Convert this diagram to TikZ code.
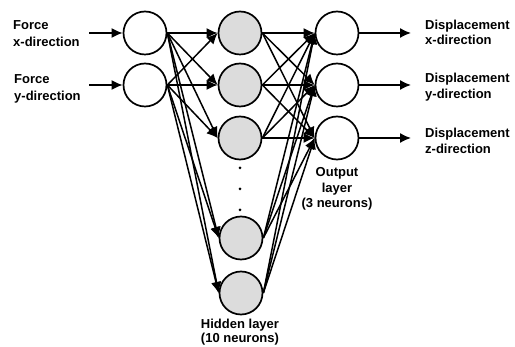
\documentclass[tikz,border=0pt]{standalone}
\usepackage{fontspec}
\setmainfont{Liberation Sans}
\usetikzlibrary{arrows.meta}
\definecolor{hidfill}{HTML}{DCDCDC}
\tikzset{
  neuron/.style={circle,draw=black,line width=1.7pt,minimum size=43pt,inner sep=0pt},
  hidneuron/.style={neuron,fill=hidfill},
  conn/.style={line width=1.5pt,-{Latex[length=11pt,width=10pt]}},
  lbl/.style={font=\fontsize{13}{16}\selectfont\bfseries,inner sep=0pt},
}
\begin{document}
\begin{tikzpicture}[x=1pt,y=-1pt]
\useasboundingbox (0,0) rectangle (515,347);
% input neurons
\node[neuron] (i1) at (145,33) {};
\node[neuron] (i2) at (145,85) {};
% hidden neurons
\node[hidneuron] (h1) at (240,33) {};
\node[hidneuron] (h2) at (240,85) {};
\node[hidneuron] (h3) at (240,138) {};
\node[hidneuron] (h4) at (241,238) {};
\node[hidneuron] (h5) at (241,293) {};
% output neurons
\node[neuron] (o1) at (337,33) {};
\node[neuron] (o2) at (337,85) {};
\node[neuron] (o3) at (337,138) {};
% dots
\fill (240,168) circle (1.5pt);
\fill (240,189) circle (1.5pt);
\fill (240,210) circle (1.5pt);
% free ends
\coordinate (a1) at (89,33);
\coordinate (a2) at (89,85);
\coordinate (b1) at (411,33);
\coordinate (b2) at (411,85);
\coordinate (b3) at (411,138);
% connections
\foreach \i in {i1,i2}{
  \foreach \h in {h1,h2,h3,h4,h5}{
    \draw[conn] (\i.east) -- (\h.west);
  }
}
\foreach \h in {h1,h2,h3,h4,h5}{
  \foreach \o in {o1,o2,o3}{
    \draw[conn] (\h.east) -- (\o.west);
  }
}
\draw[conn] (a1) -- (i1.west);
\draw[conn] (a2) -- (i2.west);
\draw[conn] (o1.east) -- (b1);
\draw[conn] (o2.east) -- (b2);
\draw[conn] (o3.east) -- (b3);
% labels (base anchor = baseline of last line)
\node[lbl,font=\fontsize{13}{17}\selectfont\bfseries,align=left,anchor=base west] (l1) at (13,46.5) {Force\\x-direction};
\node[lbl,font=\fontsize{13}{17}\selectfont\bfseries,align=left,anchor=base west] (l2) at (14,101) {Force\\y-direction};
\node[lbl,font=\fontsize{13}{15.5}\selectfont\bfseries,align=left,anchor=base west] (r1) at (425,45) {Displacement\\x-direction};
\node[lbl,font=\fontsize{13}{15.5}\selectfont\bfseries,align=left,anchor=base west] (r2) at (425,98.5) {Displacement\\y-direction};
\node[lbl,font=\fontsize{13}{15.5}\selectfont\bfseries,align=left,anchor=base west] (r3) at (425,153.5) {Displacement\\z-direction};
\node[lbl,font=\fontsize{13}{15.5}\selectfont\bfseries,align=center,anchor=base] (ol) at (337,208) {Output\\layer\\(3 neurons)};
\node[lbl,font=\fontsize{13}{14}\selectfont\bfseries,align=center,anchor=base] (hl) at (240,343) {Hidden layer\\(10 neurons)};
\end{tikzpicture}
\end{document}
